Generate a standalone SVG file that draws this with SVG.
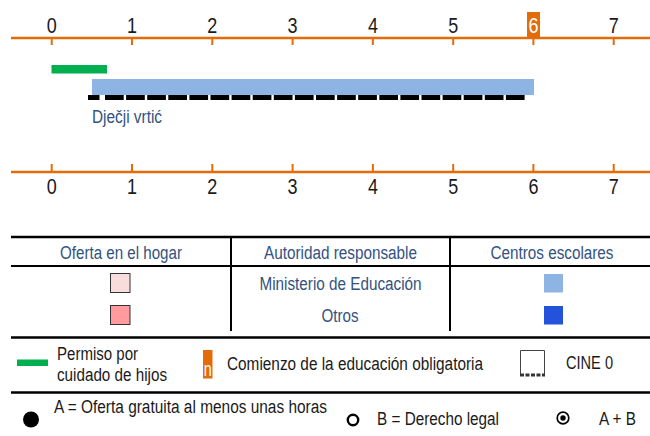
<svg xmlns="http://www.w3.org/2000/svg" width="650" height="436" viewBox="0 0 650 436">
<style>
text{font-family:"Liberation Sans",Arial,sans-serif}
.ax{stroke:#E36C09;stroke-width:2.5;fill:none}
.tk{stroke:#E36C09;stroke-width:2}
.num{font-size:21.5px;fill:#1a1a1a;text-anchor:middle}
.bl{font-size:18px;fill:#33527F}
.c{text-anchor:middle}
.lg{font-size:18px;fill:#1a1a1a}
.rule{stroke:#000;stroke-width:2.5}
.div{stroke:#000;stroke-width:2}
</style>
<rect width="650" height="436" fill="#fff"/>
<g id="axis-top">
<line class="ax" x1="11" y1="38" x2="650" y2="38"/>
<g class="tk">
<line x1="51.7" y1="38" x2="51.7" y2="45"/><line x1="132" y1="38" x2="132" y2="45"/><line x1="212.3" y1="38" x2="212.3" y2="45"/><line x1="292.6" y1="38" x2="292.6" y2="45"/><line x1="372.9" y1="38" x2="372.9" y2="45"/><line x1="453.2" y1="38" x2="453.2" y2="45"/><line x1="533.4" y1="38" x2="533.4" y2="45"/><line x1="613.7" y1="38" x2="613.7" y2="45"/>
</g>
<rect x="527" y="12" width="13" height="25" fill="#E36C09"/>
<text class="num" x="51.7" y="33" textLength="10" lengthAdjust="spacingAndGlyphs">0</text><text class="num" x="132" y="33" textLength="10" lengthAdjust="spacingAndGlyphs">1</text><text class="num" x="212.3" y="33" textLength="10" lengthAdjust="spacingAndGlyphs">2</text><text class="num" x="292.6" y="33" textLength="10" lengthAdjust="spacingAndGlyphs">3</text><text class="num" x="372.9" y="33" textLength="10" lengthAdjust="spacingAndGlyphs">4</text><text class="num" x="453.2" y="33" textLength="10" lengthAdjust="spacingAndGlyphs">5</text><text class="num" x="533.4" y="33" style="fill:#fff" textLength="10" lengthAdjust="spacingAndGlyphs">6</text><text class="num" x="613.7" y="33" textLength="10" lengthAdjust="spacingAndGlyphs">7</text>
</g>
<g id="bars">
<rect x="51.5" y="65" width="55.5" height="8.5" fill="#00B050"/>
<rect x="92" y="79" width="442" height="16" fill="#8DB4E2"/>
<line x1="88" y1="97.5" x2="99.5" y2="97.5" stroke="#000" stroke-width="5"/>
<line x1="105" y1="97.5" x2="526" y2="97.5" stroke="#000" stroke-width="5" stroke-dasharray="18.7 2.4"/>
<text class="bl" x="92" y="123" textLength="70" lengthAdjust="spacingAndGlyphs">Dječji vrtić</text>
</g>
<g id="axis-bottom">
<line class="ax" x1="11" y1="172" x2="650" y2="172"/>
<g class="tk">
<line x1="51.7" y1="164" x2="51.7" y2="172"/><line x1="132" y1="164" x2="132" y2="172"/><line x1="212.3" y1="164" x2="212.3" y2="172"/><line x1="292.6" y1="164" x2="292.6" y2="172"/><line x1="372.9" y1="164" x2="372.9" y2="172"/><line x1="453.2" y1="164" x2="453.2" y2="172"/><line x1="533.4" y1="164" x2="533.4" y2="172"/><line x1="613.7" y1="164" x2="613.7" y2="172"/>
</g>
<text class="num" x="51.7" y="194" textLength="10" lengthAdjust="spacingAndGlyphs">0</text><text class="num" x="132" y="194" textLength="10" lengthAdjust="spacingAndGlyphs">1</text><text class="num" x="212.3" y="194" textLength="10" lengthAdjust="spacingAndGlyphs">2</text><text class="num" x="292.6" y="194" textLength="10" lengthAdjust="spacingAndGlyphs">3</text><text class="num" x="372.9" y="194" textLength="10" lengthAdjust="spacingAndGlyphs">4</text><text class="num" x="453.2" y="194" textLength="10" lengthAdjust="spacingAndGlyphs">5</text><text class="num" x="533.4" y="194" textLength="10" lengthAdjust="spacingAndGlyphs">6</text><text class="num" x="613.7" y="194" textLength="10" lengthAdjust="spacingAndGlyphs">7</text>
</g>
<g id="table">
<line class="rule" x1="11" y1="237" x2="650" y2="237"/>
<line class="div" x1="11" y1="266" x2="650" y2="266"/>
<line class="div" x1="231" y1="237" x2="231" y2="331"/>
<line class="div" x1="450" y1="237" x2="450" y2="331"/>
<text class="bl c" x="121" y="259" textLength="122" lengthAdjust="spacingAndGlyphs">Oferta en el hogar</text>
<text class="bl c" x="340.5" y="259" textLength="153" lengthAdjust="spacingAndGlyphs">Autoridad responsable</text>
<text class="bl c" x="552" y="259" textLength="123" lengthAdjust="spacingAndGlyphs">Centros escolares</text>
<text class="bl c" x="340.5" y="290" textLength="162" lengthAdjust="spacingAndGlyphs">Ministerio de Educación</text>
<text class="bl c" x="340" y="322" textLength="37" lengthAdjust="spacingAndGlyphs">Otros</text>
<rect x="110.5" y="273.5" width="19.5" height="19" fill="#F9DCDC" stroke="#333" stroke-width="1"/>
<rect x="110.5" y="305.5" width="19.5" height="19" fill="#FF9A9E" stroke="#333" stroke-width="1"/>
<rect x="544" y="274" width="19" height="18.5" fill="#8DB4E2"/>
<rect x="544" y="306" width="19" height="18.5" fill="#2453DB"/>
<line class="rule" x1="11" y1="337.5" x2="650" y2="337.5"/>
</g>
<g id="legend">
<rect x="17" y="359.5" width="31" height="6.5" fill="#00B050"/>
<text class="lg" x="57" y="360" textLength="81" lengthAdjust="spacingAndGlyphs">Permiso por</text>
<text class="lg" x="57" y="381" textLength="110" lengthAdjust="spacingAndGlyphs">cuidado de hijos</text>
<rect x="203" y="350" width="9.5" height="28.5" fill="#E36C09"/>
<text class="lg" x="207.7" y="376" text-anchor="middle" style="fill:#fff;font-size:21px" textLength="8" lengthAdjust="spacingAndGlyphs">n</text>
<text class="lg" x="227" y="369.5" textLength="256" lengthAdjust="spacingAndGlyphs">Comienzo de la educación obligatoria</text>
<path d="M520.5 375V350.5H544.5V375" fill="none" stroke="#444" stroke-width="1"/>
<line x1="520" y1="375" x2="545" y2="375" stroke="#333" stroke-width="3" stroke-dasharray="4 1.5"/>
<text class="lg" x="566" y="369" textLength="47" lengthAdjust="spacingAndGlyphs">CINE 0</text>
<line class="rule" x1="11" y1="392.5" x2="650" y2="392.5"/>
<circle cx="31" cy="419.5" r="8" fill="#000"/>
<text class="lg" x="54" y="413" textLength="273" lengthAdjust="spacingAndGlyphs">A = Oferta gratuita al menos unas horas</text>
<circle cx="353" cy="420" r="5.2" fill="none" stroke="#000" stroke-width="2.4"/>
<text class="lg" x="377" y="425" textLength="122" lengthAdjust="spacingAndGlyphs">B = Derecho legal</text>
<circle cx="563" cy="418" r="5.8" fill="none" stroke="#000" stroke-width="1.7"/>
<circle cx="563" cy="418" r="2.7" fill="#000"/>
<text class="lg" x="599" y="425" textLength="37" lengthAdjust="spacingAndGlyphs">A + B</text>
</g>
</svg>
